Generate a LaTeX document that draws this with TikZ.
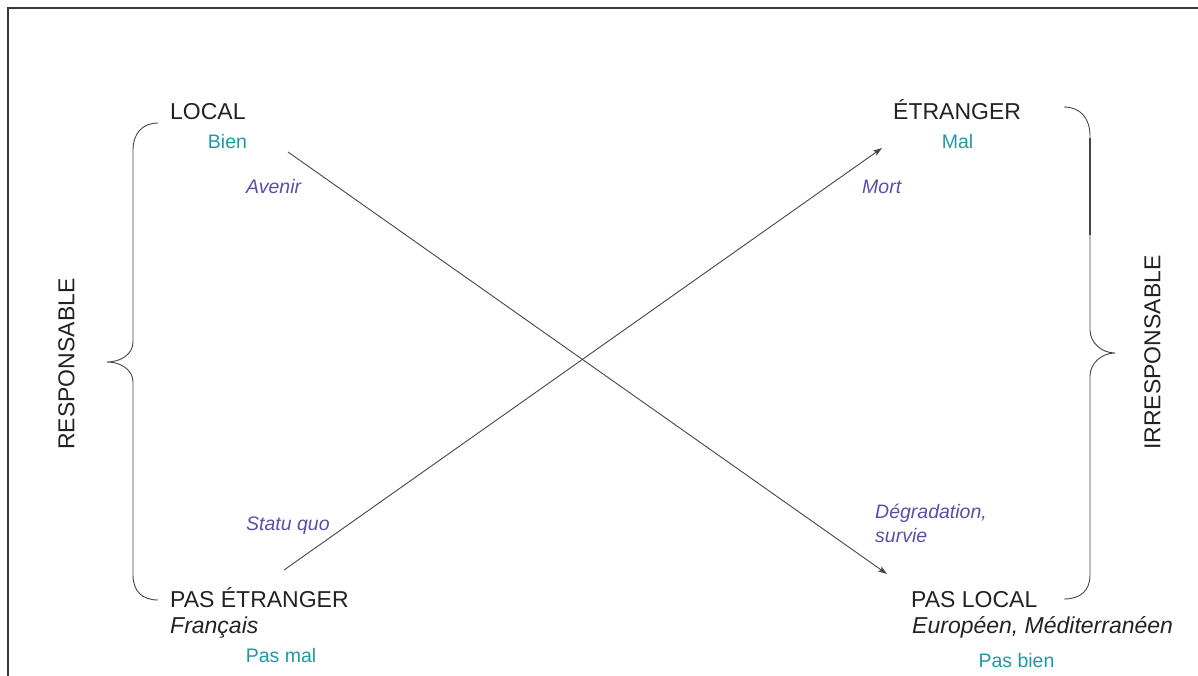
\documentclass[tikz,border=0pt]{standalone}
\usepackage{fontspec}
\setmainfont{Liberation Sans}
\usetikzlibrary{arrows.meta}
\definecolor{tealc}{HTML}{1E9AA6}
\definecolor{purp}{HTML}{5E4DA6}
\definecolor{ink}{HTML}{222222}
\definecolor{linec}{HTML}{454545}
\begin{document}
\begin{tikzpicture}[x=1pt,y=-1pt,
  big/.style={font=\fontsize{23}{26}\selectfont, text=ink, inner sep=0pt, anchor=base west},
  bigit/.style={font=\fontsize{23}{26}\selectfont\itshape, text=ink, inner sep=0pt, anchor=base west},
  val/.style={font=\fontsize{19.5}{22}\selectfont, text=tealc, inner sep=0pt, anchor=base},
  trans/.style={font=\fontsize{19.5}{24}\selectfont\itshape, text=purp, inner sep=0pt, anchor=base west, align=left},
  side/.style={font=\fontsize{23}{26}\selectfont, text=ink, inner sep=0pt, rotate=90},
  brace/.style={draw=linec, line width=0.9pt},
  flow/.style={draw=linec, line width=0.9pt, -{Stealth[length=9pt,width=6pt,inset=2pt]}}]
\useasboundingbox (0,0) rectangle (1198,675);
% frame
\draw[draw=ink!90, line width=1.8pt] (8,680) -- (8,8) -- (1205,8);
% texts
\node[big] (local) at (170,119) {LOCAL};
\node[val] (bien) at (227.5,148) {Bien};
\node[big] (etr) at (893,119) {ÉTRANGER};
\node[val] (mal) at (957.5,148) {Mal};
\node[trans] (avenir) at (246,193) {Avenir};
\node[trans] (mort) at (862,193) {Mort};
\node[trans] (statu) at (246,530) {Statu quo};
\node[trans] (degr) at (875,542) {Dégradation,\\survie};
\node[big] (pasetr) at (170,607) {PAS ÉTRANGER};
\node[bigit] (fr) at (170,633) {Français};
\node[val] (pasmal) at (281,662) {Pas mal};
\node[big] (paslocal) at (911,607) {PAS LOCAL};
\node[bigit] (eur) at (912,633) {Européen, Méditerranéen};
\node[val] (pasbien) at (1016.5,667) {Pas bien};
\node[side] (resp) at (66.5,364) {RESPONSABLE};
\node[side] (irr) at (1152.5,352.5) {IRRESPONSABLE};
% braces
\draw[brace] (158,123) .. controls (142,123) and (133,134) .. (133,150) -- (133,342)
  .. controls (133,354) and (121,362) .. (107,362)
  .. controls (121,362) and (133,370) .. (133,382) -- (133,575)
  .. controls (133,591) and (142,600) .. (158,600);
\draw[brace] (1064,107) .. controls (1080,107) and (1090,118) .. (1090,136) -- (1090,330)
  .. controls (1090,342) and (1101,353) .. (1115,353)
  .. controls (1101,353) and (1090,364) .. (1090,376) -- (1090,575)
  .. controls (1090,591) and (1080,599) .. (1064,599);
\draw[draw=linec, line width=1.2pt] (1090,138) -- (1090,235);
% connectors
\coordinate (s1) at (288,152);
\coordinate (e1) at (887,574);
\coordinate (s2) at (284,570);
\coordinate (e2) at (882,148);
\draw[flow] (s1) -- (e1);
\draw[flow] (s2) -- (e2);
\end{tikzpicture}
\end{document}
